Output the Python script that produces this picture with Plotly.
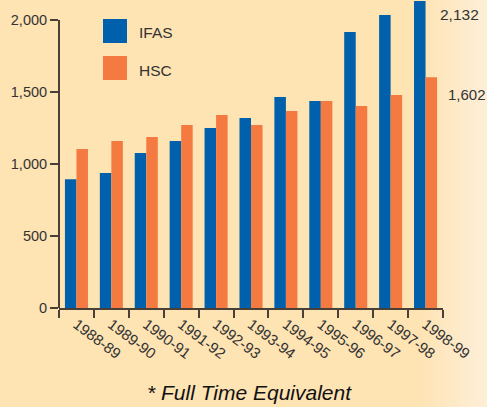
import plotly.graph_objects as go

categories = ["1988-89", "1989-90", "1990-91", "1991-92", "1992-93", "1993-94",
              "1994-95", "1995-96", "1996-97", "1997-98", "1998-99"]
ifas = [895, 937, 1076, 1160, 1250, 1319, 1465, 1437, 1917, 2035, 2132]
hsc = [1104, 1160, 1188, 1271, 1340, 1271, 1368, 1437, 1403, 1479, 1602]
y_ticks = [0, 500, 1000, 1500, 2000]
y_tick_labels = ["0", "500", "1,000", "1,500", "2,000"]

BLUE = "#0060AB"
ORANGE = "#F47A42"
BG = "#FEE3B3"
AXIS = "#4a4038"
TXT = "#333333"
FONT = "Liberation Sans, Arial, sans-serif"

fig = go.Figure()
fig.add_trace(go.Bar(x=categories, y=ifas, name="IFAS", marker=dict(color=BLUE, line=dict(width=0))))
fig.add_trace(go.Bar(x=categories, y=hsc, name="HSC", marker=dict(color=ORANGE, line=dict(width=0))))

shapes = []
# background gradient toward the right edge
n = 24
x0p, x1p = 0.93, 1.12
for i in range(n):
    t = i / (n - 1)
    r = 254
    g = int(round(0xE3 + (0xEF - 0xE3) * t))
    b = int(round(0xB3 + (0xD8 - 0xB3) * t))
    shapes.append(dict(type="rect", xref="paper", yref="paper", layer="below",
                       x0=x0p + (x1p - x0p) * i / n, x1=x0p + (x1p - x0p) * (i + 1) / n + 0.002,
                       y0=-0.4, y1=1.05, line=dict(width=0),
                       fillcolor=f"rgb({r},{g},{b})"))
# y axis line only up to 2000
shapes.append(dict(type="line", xref="paper", yref="y", x0=0, x1=0, y0=0, y1=2000,
                   line=dict(color=AXIS, width=2)))
# legend swatches
shapes.append(dict(type="rect", xref="paper", yref="paper",
                   x0=(103 - 59) / 384, x1=(127 - 59) / 384,
                   y0=(308 - 43) / 308, y1=(308 - 19) / 308,
                   fillcolor=BLUE, line=dict(width=0)))
shapes.append(dict(type="rect", xref="paper", yref="paper",
                   x0=(103 - 59) / 384, x1=(127 - 59) / 384,
                   y0=(308 - 80) / 308, y1=(308 - 56) / 308,
                   fillcolor=ORANGE, line=dict(width=0)))

annotations = [
    dict(text="IFAS", xref="paper", yref="paper", x=(137 - 59) / 384, y=(308 - 32) / 308,
         xanchor="left", yanchor="middle", showarrow=False, font=dict(size=15.5, color=TXT, family=FONT)),
    dict(text="HSC", xref="paper", yref="paper", x=(137 - 59) / 384, y=(308 - 70) / 308,
         xanchor="left", yanchor="middle", showarrow=False, font=dict(size=15.5, color=TXT, family=FONT)),
    dict(text="2,132", xref="paper", yref="paper", x=(438 - 59) / 384, y=(308 - 15) / 308,
         xanchor="left", yanchor="middle", showarrow=False, font=dict(size=15.5, color=TXT, family=FONT)),
    dict(text="1,602", xref="paper", yref="paper", x=(446 - 59) / 384, y=(308 - 94) / 308,
         xanchor="left", yanchor="middle", showarrow=False, font=dict(size=15, color=TXT, family=FONT)),
    dict(text="<i>* Full Time Equivalent</i>", xref="paper", yref="paper", x=(249 - 59) / 384,
         y=(308 - 392) / 308, xanchor="center", yanchor="middle", showarrow=False,
         font=dict(size=21, color="#111111", family=FONT)),
]

fig.update_layout(
    width=487, height=407,
    margin=dict(l=59, r=44, t=0, b=99),
    paper_bgcolor=BG, plot_bgcolor="rgba(0,0,0,0)",
    barmode="group", bargap=0.34, bargroupgap=0,
    showlegend=False,
    shapes=shapes, annotations=annotations,
    font=dict(family=FONT, color=TXT, size=14),
)
fig.update_xaxes(type="category", showline=True, linecolor=AXIS, linewidth=2,
                 ticks="outside", tickson="boundaries", ticklen=8, tickcolor=AXIS, tickwidth=2,
                 tickangle=37, tickfont=dict(size=15, color=TXT, family=FONT),
                 showgrid=False, zeroline=False)
fig.update_yaxes(range=[0, 2139], showline=False, tickvals=y_ticks, ticktext=y_tick_labels,
                 ticks="outside", ticklen=8, tickcolor=AXIS, tickwidth=2,
                 tickfont=dict(size=14.5, color=TXT, family=FONT),
                 showgrid=False, zeroline=False)

fig.write_html("out.html", config={"displayModeBar": False},
               post_script="document.body.style.margin='0';document.body.style.overflow='hidden';")
